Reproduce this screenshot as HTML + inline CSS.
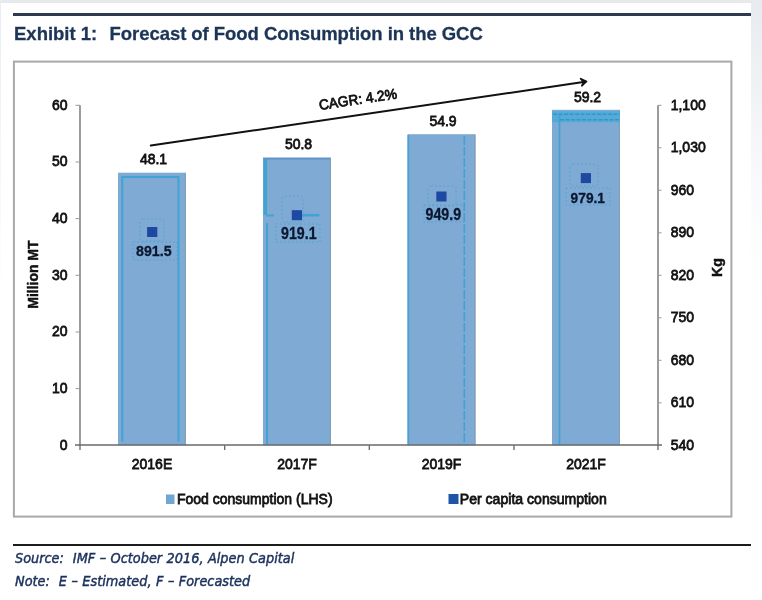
<!DOCTYPE html>
<html lang="en">
<head>
<meta charset="utf-8">
<title>Exhibit 1: Forecast of Food Consumption in the GCC</title>
<style>
html,body{margin:0;padding:0;background:#fff;}
body{width:762px;height:600px;position:relative;overflow:hidden;font-family:"Liberation Sans",sans-serif;}
#bg-top{position:absolute;left:0;top:0;width:762px;height:3px;background:#e6eaed;}
#bg-left{position:absolute;left:0;top:0;width:1px;height:300px;background:linear-gradient(#e9edf0,#fff);}
#bg-right{position:absolute;left:751px;top:0;width:11px;height:300px;background:linear-gradient(#e7ebef 0px,#eff2f5 80px,#f7f8fa 160px,#fcfdfd 240px,#fff 300px);}
#rule-top{position:absolute;left:13px;top:12.9px;width:738px;height:3.1px;background:#2e3b4e;}
#title{position:absolute;left:14px;top:22.5px;margin:0;font-size:18.5px;line-height:22px;font-weight:bold;color:#1c3557;white-space:pre;-webkit-text-stroke:0.3px #1c3557;}
#title .gap{letter-spacing:1px;}
#title .rest{letter-spacing:-0.05px;}
#chart{position:absolute;left:0;top:0;width:762px;height:600px;}
#rule-bot{position:absolute;left:13px;top:544.4px;width:738px;height:1.9px;background:#1c1c1c;}
.note{position:absolute;left:14.5px;margin:0;font-family:"DejaVu Sans Condensed","DejaVu Sans","Liberation Sans",sans-serif;font-style:italic;font-size:14.7px;line-height:16px;color:#1b305c;white-space:pre;-webkit-text-stroke:0.45px #1b305c;transform:scaleX(0.975);word-spacing:0.4px;transform-origin:0 0;}
#src{top:550.4px;}
#nt{top:572.9px;}
svg text{font-family:"Liberation Sans",sans-serif;}
#chart,#title,.note,#rule-top,#rule-bot{filter:blur(0.55px);}
</style>
</head>
<body>
<div id="bg-top"></div><div id="bg-left"></div><div id="bg-right"></div>
<div id="rule-top"></div>
<h1 id="title">Exhibit 1:<span class="gap">  </span><span class="rest">Forecast of Food Consumption in the GCC</span></h1>
<svg id="chart" width="762" height="600" viewBox="0 0 762 600">
<rect x="13.9" y="61.6" width="717.5" height="455" fill="#fff" stroke="#a9a9a9" stroke-width="2"/>
<g fill="#7eaad4">
<rect x="118" y="172.7" width="68" height="272.6"/>
<rect x="263" y="157.4" width="68" height="287.9"/>
<rect x="407.5" y="134.2" width="68" height="311.1"/>
<rect x="552" y="109.8" width="68" height="335.5"/>
</g>
<g stroke="#84a0b4" stroke-width="1.2"><path d="M185.4 173.2V444"/><path d="M330.4 157.9V444"/><path d="M474.9 134.7V444"/><path d="M619.4 110.3V444"/></g>
<rect x="552" y="111.2" width="68" height="11" fill="#4aa9da" opacity="0.75"/>
<g fill="none" stroke="#41a2d3" stroke-width="1.6">
<path d="M122.3 441.5V177H178.5V441.5" stroke-width="1.9"/>
<path d="M265.3 158V215" stroke-width="3.6"/><path d="M266 215.5H274M267 223V445" stroke-width="2"/><path d="M263.5 158.8H330" stroke="#5f93c4" stroke-width="1.6"/>
<path d="M302 215.2H319.5" stroke-width="2.6"/>
<path d="M408.3 135V445"/>
<path d="M464.3 136V445" stroke-dasharray="9 2" stroke-width="1.6"/>
<path d="M559.5 114V445"/>
<path d="M553 114.3H620M560 119.8H620" stroke-dasharray="4 1.5" stroke="#2f97c9"/>
</g>
<g fill="none" stroke="#3aa0d2" stroke-width="1" stroke-dasharray="2 2" opacity="0.55">
<rect x="140" y="219" width="24" height="22" rx="3"/>
<rect x="133" y="242" width="44" height="18"/>
<rect x="282" y="196" width="21" height="26" rx="3"/>
<rect x="276" y="224" width="44" height="18"/>
<rect x="428" y="186" width="28" height="20" rx="3"/>
<rect x="424" y="205" width="40" height="17"/>
<rect x="570" y="164" width="28" height="22" rx="3"/>
<rect x="566" y="188" width="44" height="17"/>
</g>
<g stroke="#666" stroke-width="1.3" fill="none">
<path d="M80 105.3V450"/><path d="M658 105.3V450"/><path d="M75 445.1H662" stroke-width="1.5" stroke="#6a6a6a"/>
<path d="M75.5 388.6H80M75.5 332.0H80M75.5 275.3H80M75.5 218.6H80M75.5 162.0H80M75.5 105.3H80" stroke="#999" stroke-width="1"/>
<path d="M658 402.8H661.5M658 360.3H661.5M658 317.8H661.5M658 275.3H661.5M658 232.8H661.5M658 190.3H661.5M658 147.8H661.5M658 105.3H661.5" stroke="#999" stroke-width="1"/>
<path d="M224.7 445.3V450M369.3 445.3V450M514 445.3V450"/>
</g>
<text transform="translate(67.5 449.5) scale(0.915 1)" text-anchor="end" style="font-size:15.3px;fill:#111;stroke:#111;stroke-width:0.8px;">0</text>
<text transform="translate(67.5 392.8) scale(0.915 1)" text-anchor="end" style="font-size:15.3px;fill:#111;stroke:#111;stroke-width:0.8px;">10</text>
<text transform="translate(67.5 336.2) scale(0.915 1)" text-anchor="end" style="font-size:15.3px;fill:#111;stroke:#111;stroke-width:0.8px;">20</text>
<text transform="translate(67.5 279.5) scale(0.915 1)" text-anchor="end" style="font-size:15.3px;fill:#111;stroke:#111;stroke-width:0.8px;">30</text>
<text transform="translate(67.5 222.8) scale(0.915 1)" text-anchor="end" style="font-size:15.3px;fill:#111;stroke:#111;stroke-width:0.8px;">40</text>
<text transform="translate(67.5 166.2) scale(0.915 1)" text-anchor="end" style="font-size:15.3px;fill:#111;stroke:#111;stroke-width:0.8px;">50</text>
<text transform="translate(67.5 109.5) scale(0.915 1)" text-anchor="end" style="font-size:15.3px;fill:#111;stroke:#111;stroke-width:0.8px;">60</text>
<text transform="translate(670.7 449.7) scale(0.915 1)" text-anchor="start" style="font-size:15.3px;fill:#111;stroke:#111;stroke-width:0.8px;">540</text>
<text transform="translate(670.7 407.2) scale(0.915 1)" text-anchor="start" style="font-size:15.3px;fill:#111;stroke:#111;stroke-width:0.8px;">610</text>
<text transform="translate(670.7 364.7) scale(0.915 1)" text-anchor="start" style="font-size:15.3px;fill:#111;stroke:#111;stroke-width:0.8px;">680</text>
<text transform="translate(670.7 322.2) scale(0.915 1)" text-anchor="start" style="font-size:15.3px;fill:#111;stroke:#111;stroke-width:0.8px;">750</text>
<text transform="translate(670.7 279.7) scale(0.915 1)" text-anchor="start" style="font-size:15.3px;fill:#111;stroke:#111;stroke-width:0.8px;">820</text>
<text transform="translate(670.7 237.2) scale(0.915 1)" text-anchor="start" style="font-size:15.3px;fill:#111;stroke:#111;stroke-width:0.8px;">890</text>
<text transform="translate(670.7 194.7) scale(0.915 1)" text-anchor="start" style="font-size:15.3px;fill:#111;stroke:#111;stroke-width:0.8px;">960</text>
<text transform="translate(670.7 152.2) scale(0.915 1)" text-anchor="start" style="font-size:15.3px;fill:#111;stroke:#111;stroke-width:0.8px;">1,030</text>
<text transform="translate(670.7 109.7) scale(0.915 1)" text-anchor="start" style="font-size:15.3px;fill:#111;stroke:#111;stroke-width:0.8px;">1,100</text>
<text transform="translate(38.1 274.6) rotate(-90) scale(0.985 1)" text-anchor="middle" style="font-size:14.2px;fill:#111;stroke:#111;stroke-width:0.45px;font-weight:bold;">Million MT</text>
<text transform="translate(722 267.6) rotate(-90) scale(1 1)" text-anchor="middle" style="font-size:14.2px;fill:#111;stroke:#111;stroke-width:0.45px;font-weight:bold;">Kg</text>
<text transform="translate(153.5 164.4) scale(0.915 1)" text-anchor="middle" style="font-size:15.3px;fill:#111;stroke:#111;stroke-width:0.8px;">48.1</text>
<text transform="translate(152.0 468.5) scale(0.915 1)" text-anchor="middle" style="font-size:15.3px;fill:#111;stroke:#111;stroke-width:0.8px;">2016E</text>
<rect x="147.1" y="227.0" width="10.2" height="10" fill="#1d49a2"/>
<text transform="translate(153.8 256.1) scale(0.9233766233766234 1)" text-anchor="middle" style="font-size:15.4px;fill:#0a1730;stroke:#0a1730;stroke-width:0.3px;font-weight:bold;">891.5</text>
<text transform="translate(298.5 149.1) scale(0.915 1)" text-anchor="middle" style="font-size:15.3px;fill:#111;stroke:#111;stroke-width:0.8px;">50.8</text>
<text transform="translate(297.0 468.5) scale(0.915 1)" text-anchor="middle" style="font-size:15.3px;fill:#111;stroke:#111;stroke-width:0.8px;">2017F</text>
<rect x="291.8" y="210.2" width="10.2" height="10" fill="#1d49a2"/>
<text transform="translate(298.8 238.7) scale(0.9 1)" text-anchor="middle" style="font-size:15.8px;fill:#0a1730;stroke:#0a1730;stroke-width:0.3px;font-weight:bold;">919.1</text>
<text transform="translate(443.0 125.9) scale(0.915 1)" text-anchor="middle" style="font-size:15.3px;fill:#111;stroke:#111;stroke-width:0.8px;">54.9</text>
<text transform="translate(441.5 468.5) scale(0.915 1)" text-anchor="middle" style="font-size:15.3px;fill:#111;stroke:#111;stroke-width:0.8px;">2019F</text>
<rect x="436.3" y="191.5" width="10.2" height="10" fill="#1d49a2"/>
<text transform="translate(443.3 220.0) scale(0.9 1)" text-anchor="middle" style="font-size:15.8px;fill:#0a1730;stroke:#0a1730;stroke-width:0.3px;font-weight:bold;">949.9</text>
<text transform="translate(587.5 101.5) scale(0.915 1)" text-anchor="middle" style="font-size:15.3px;fill:#111;stroke:#111;stroke-width:0.8px;">59.2</text>
<text transform="translate(586.0 468.5) scale(0.915 1)" text-anchor="middle" style="font-size:15.3px;fill:#111;stroke:#111;stroke-width:0.8px;">2021F</text>
<rect x="580.8" y="173.1" width="10.2" height="10" fill="#1d49a2"/>
<text transform="translate(587.8 202.7) scale(0.93 1)" text-anchor="middle" style="font-size:14.8px;fill:#0a1730;stroke:#0a1730;stroke-width:0.3px;font-weight:bold;">979.1</text>
<g stroke="#111" stroke-width="2" fill="none" stroke-linecap="round"><path d="M150.8 145.5L585 81.8"/><path d="M580.6 78.6L586.6 81.5L581.8 85.8L583.6 82Z" fill="#111" stroke-width="1.6" stroke-linejoin="round"/></g>
<text transform="translate(319.7 109.9) rotate(-8.4) scale(0.955 1)" text-anchor="start" style="font-size:14.4px;fill:#111;stroke:#111;stroke-width:0.8px;">CAGR: 4.2%</text>
<rect x="166" y="494.5" width="8.5" height="9.5" fill="#6fa6d2"/>
<text transform="translate(177 503.7) scale(0.915 1)" text-anchor="start" style="font-size:15.3px;fill:#111;stroke:#111;stroke-width:0.8px;">Food consumption (LHS)</text>
<rect x="448.5" y="494" width="10" height="10" fill="#1f55a5"/>
<text transform="translate(459.8 503.7) scale(0.92 1)" text-anchor="start" style="font-size:15.3px;fill:#111;stroke:#111;stroke-width:0.8px;">Per capita consumption</text>
</svg>
<div id="rule-bot"></div>
<p class="note" id="src">Source:  IMF – October 2016, Alpen Capital</p>
<p class="note" id="nt">Note:  E – Estimated, F – Forecasted</p>
</body>
</html>
